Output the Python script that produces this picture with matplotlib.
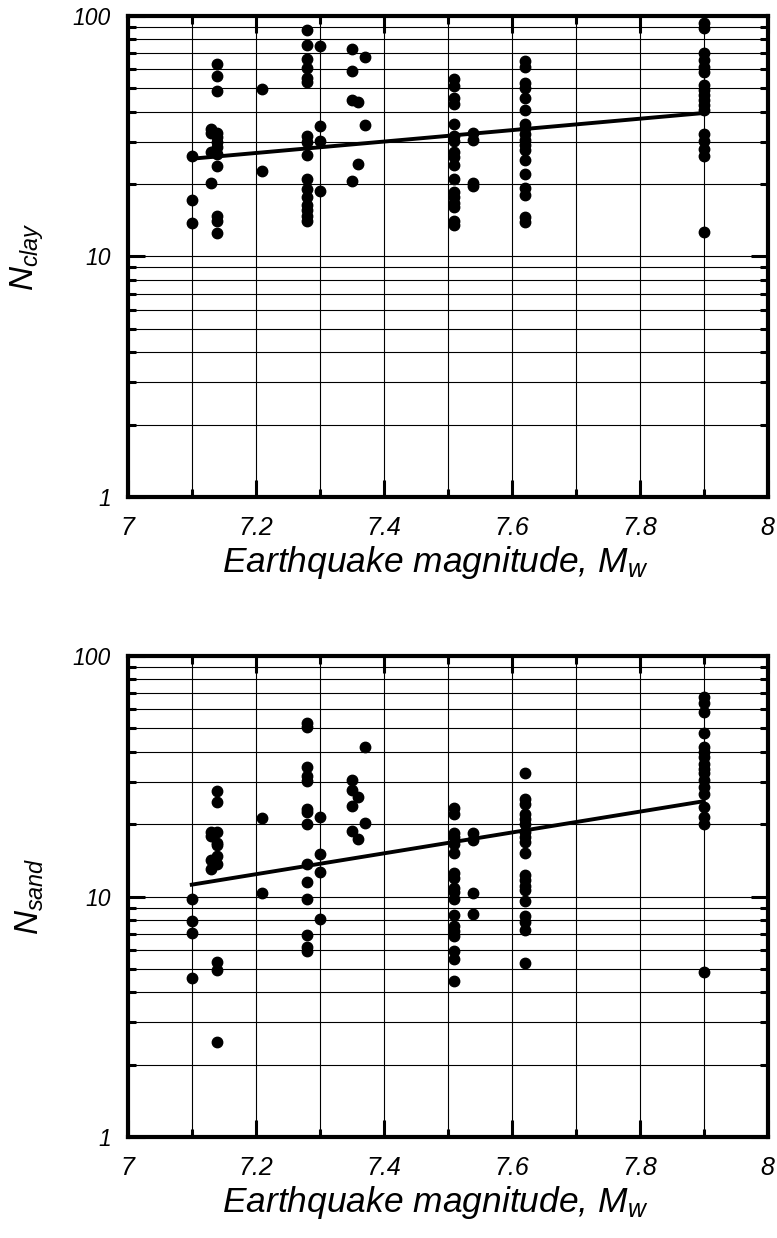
import matplotlib
matplotlib.use("Agg")
import matplotlib.pyplot as plt
import numpy as np
from matplotlib.ticker import FixedLocator, NullFormatter, FuncFormatter, LogLocator

plt.rcParams['font.family'] = ['Liberation Sans', 'DejaVu Sans']
plt.rcParams['font.style'] = 'italic'
plt.rcParams['mathtext.fontset'] = 'custom'
plt.rcParams['mathtext.it'] = 'Liberation Sans:italic'
plt.rcParams['mathtext.rm'] = 'Liberation Sans:italic'

# earthquake magnitudes (one entry per event column)
mags = [7.10, 7.13, 7.14, 7.21, 7.28, 7.30, 7.35, 7.36, 7.37, 7.51, 7.54, 7.62, 7.90]

# N_clay values, one list per magnitude
clay = [
    [26.2, 17.2, 13.8],
    [33.8, 32.5, 27.2, 20.3],
    [63.0, 56.4, 48.8, 32.5, 31.4, 29.9, 28.5, 26.6, 23.8, 14.8, 14.1, 12.5],
    [49.6, 22.6],
    [87.4, 75.7, 66.0, 60.5, 55.0, 53.2, 31.7, 29.9, 26.5, 21.1, 19.0, 17.6, 16.3, 15.6, 14.8, 14.1],
    [75.2, 34.9, 30.1, 18.7],
    [72.9, 59.1, 44.7, 20.6],
    [44.0, 24.3],
    [67.6, 35.1],
    [54.6, 51.1, 45.8, 43.0, 35.7, 31.6, 30.2, 27.2, 25.9, 24.1, 20.9, 18.5, 17.6, 16.7, 16.1, 14.1, 13.5],
    [32.7, 30.4, 20.3, 19.6],
    [65.2, 61.1, 52.5, 50.0, 45.8, 40.8, 35.7, 34.1, 32.2, 30.4, 29.0, 27.8, 25.3, 22.0, 19.2, 18.1, 14.6, 13.9],
    [93.2, 89.0, 70.3, 65.5, 61.5, 58.6, 51.6, 49.2, 46.9, 44.7, 42.6, 40.6, 32.4, 30.2, 28.1, 26.2, 12.7],
]

# N_sand values, one list per magnitude
sand = [
    [9.72, 7.89, 7.03, 4.57],
    [18.5, 17.9, 14.2, 13.0],
    [27.5, 24.7, 18.5, 16.7, 16.3, 14.7, 13.7, 5.32, 4.96, 2.49],
    [21.3, 10.3],
    [52.7, 50.5, 34.6, 31.6, 30.2, 23.2, 22.4, 20.1, 13.7, 11.5, 9.72, 6.92, 6.15, 5.92],
    [21.4, 15.0, 12.7, 8.03],
    [30.6, 27.7, 23.7, 18.7],
    [25.9, 17.4],
    [41.9, 20.3],
    [23.4, 22.1, 18.4, 17.7, 16.6, 15.1, 12.5, 11.9, 10.9, 10.4, 9.78, 8.39, 7.57, 7.22, 6.88, 5.96, 5.50, 4.47],
    [18.4, 17.1, 10.3, 8.47],
    [32.7, 25.5, 24.3, 22.1, 21.1, 20.1, 18.5, 17.7, 16.8, 15.1, 12.3, 11.7, 11.1, 10.6, 9.62, 8.33, 7.82, 7.26, 5.27],
    [67.3, 63.6, 58.6, 47.7, 41.9, 39.9, 38.0, 35.7, 34.0, 32.5, 30.4, 28.5, 26.6, 23.6, 21.4, 20.1, 4.84],
]

# trend line end points
fit_x = [7.1, 7.9]
fit_clay = [25.5, 39.5]
fit_sand = [11.2, 24.9]

x_ticks = [7.0, 7.2, 7.4, 7.6, 7.8, 8.0]
x_minor = [7.1, 7.3, 7.5, 7.7, 7.9]
y_ticks = [1, 10, 100]


def flatten(mags, groups):
    xs, ys = [], []
    for m, vals in zip(mags, groups):
        xs += [m] * len(vals)
        ys += vals
    return np.array(xs), np.array(ys)


def style_axis(ax, ylabel):
    ax.set_xlim(7, 8)
    ax.set_yscale('log')
    ax.set_ylim(1, 100)
    ax.xaxis.set_major_locator(FixedLocator(x_ticks))
    ax.xaxis.set_minor_locator(FixedLocator(x_minor))
    ax.xaxis.set_major_formatter(FuncFormatter(lambda v, p: f'{v:g}'))
    ax.yaxis.set_major_locator(FixedLocator(y_ticks))
    ax.yaxis.set_minor_locator(LogLocator(base=10, subs=np.arange(2, 10)))
    ax.yaxis.set_major_formatter(FuncFormatter(lambda v, p: f'{v:g}'))
    ax.yaxis.set_minor_formatter(NullFormatter())
    ax.grid(True, which='both', color='black', linewidth=0.8)
    ax.tick_params(which='both', direction='in', top=True, right=True, width=2.2)
    ax.tick_params(which='major', length=12)
    ax.tick_params(axis='x', which='major', pad=14, labelsize=18)
    ax.tick_params(axis='y', which='major', pad=12, labelsize=16.5)
    ax.tick_params(which='minor', length=6)
    for s in ax.spines.values():
        s.set_linewidth(3)
    ax.set_xlabel('Earthquake magnitude, $M_w$', fontsize=25.5)
    ax.xaxis.set_label_coords(0.481, -0.098)
    ax.set_ylabel(ylabel, fontsize=24)
    ax.yaxis.set_label_coords(-0.128, 0.5)
    ax.set_axisbelow(True)


fig = plt.figure(figsize=(7.77, 12.38), dpi=100)
ax1 = fig.add_axes([0.1644, 0.59855, 0.8237, 0.38853])
ax2 = fig.add_axes([0.1644, 0.08158, 0.8237, 0.38853])

for ax, groups, fit, lab in [(ax1, clay, fit_clay, '$N_{clay}$'),
                             (ax2, sand, fit_sand, '$N_{sand}$')]:
    xs, ys = flatten(mags, groups)
    ax.plot(xs, ys, 'o', color='black', markersize=7.5, zorder=3, clip_on=False)
    ax.plot(fit_x, fit, '-', color='black', linewidth=2.8, zorder=4)
    style_axis(ax, lab)

fig.savefig('out.png', dpi=100)
